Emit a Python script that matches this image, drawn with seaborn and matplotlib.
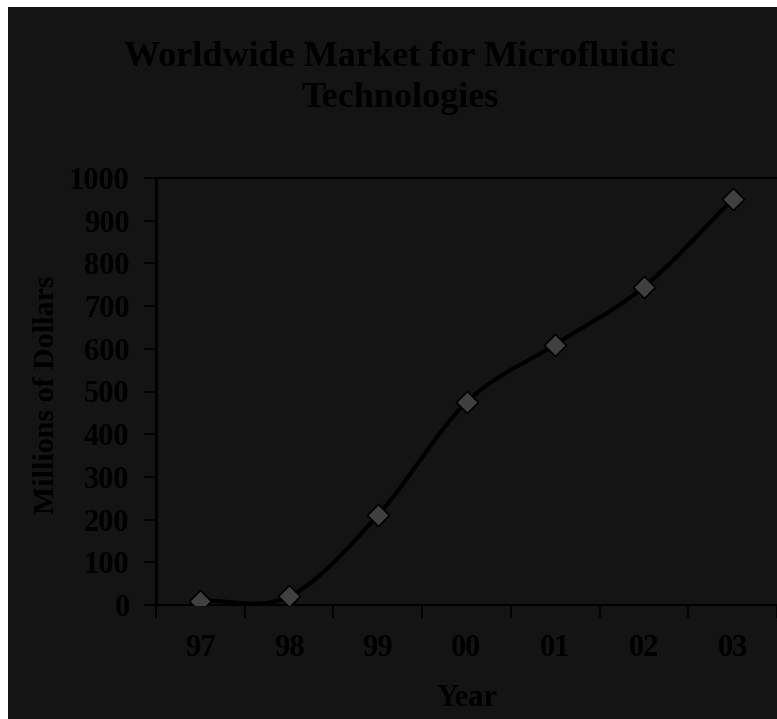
import numpy as np
import pandas as pd
import matplotlib
matplotlib.use("Agg")
import matplotlib.pyplot as plt
from matplotlib.patches import Rectangle
from matplotlib.ticker import FixedLocator, NullFormatter
import seaborn as sns

# Market size by year, millions of dollars
years = ["97", "98", "99", "00", "01", "02", "03"]
market = [10, 20, 210, 475, 610, 745, 950]
y_ticks = list(range(0, 1001, 100))

BG = "#141414"
FONT = ["Liberation Serif", "DejaVu Serif"]
TICK_SIZE = 22

sns.set_style("ticks")
plt.rcParams["font.family"] = FONT
plt.rcParams["font.weight"] = "bold"

fig = plt.figure(figsize=(7.77, 7.19), dpi=100, facecolor="white")
# dark chart panel inside a thin white margin
fig.patches.append(Rectangle((8 / 777, 0), 1 - 8 / 777, 1 - 7 / 719,
                             transform=fig.transFigure, facecolor=BG,
                             edgecolor="none", zorder=-10))

ax = fig.add_axes([156 / 777, (719 - 605) / 719, 1 - 156 / 777, (605 - 178) / 719])
ax.set_facecolor(BG)

df = pd.DataFrame({"pos": np.arange(len(years)), "value": market})

# smooth Catmull-Rom style curve through the points
x = df["pos"].to_numpy(float)
y = df["value"].to_numpy(float)
m = np.empty_like(y)
m[1:-1] = (y[2:] - y[:-2]) / 2
m[0] = y[1] - y[0]
m[-1] = y[-1] - y[-2]
xs, ys = [], []
for i in range(len(x) - 1):
    t = np.linspace(0, 1, 40)
    h00 = 2 * t**3 - 3 * t**2 + 1
    h10 = t**3 - 2 * t**2 + t
    h01 = -2 * t**3 + 3 * t**2
    h11 = t**3 - t**2
    xs.append(x[i] + t)
    ys.append(h00 * y[i] + h10 * m[i] + h01 * y[i + 1] + h11 * m[i + 1])
ax.plot(np.concatenate(xs), np.concatenate(ys), color="black", lw=3, zorder=2,
        solid_capstyle="round")

sns.scatterplot(data=df, x="pos", y="value", marker="D", s=125,
                color="#404040", edgecolor="black", linewidth=1.2,
                zorder=3, ax=ax, legend=False)

ax.set_xlim(-0.5, len(years) - 0.5)
ax.set_ylim(0, 1000)
ax.set_yticks(y_ticks)
ax.set_yticklabels([str(v) for v in y_ticks])
ax.set_xticks(df["pos"])
ax.set_xticklabels(years)
ax.xaxis.set_minor_locator(FixedLocator(np.arange(-0.5, len(years), 1)))
ax.xaxis.set_minor_formatter(NullFormatter())
ax.tick_params(axis="x", which="major", length=0, pad=21, labelsize=TICK_SIZE,
               labelcolor="black")
ax.tick_params(axis="x", which="minor", length=9, width=1.2, color="black",
               direction="out")
ax.tick_params(axis="y", length=9, width=1.2, color="black", direction="out",
               pad=10, labelsize=TICK_SIZE, labelcolor="black")
for lbl in ax.get_xticklabels() + ax.get_yticklabels():
    lbl.set_fontweight("bold")

for side in ["left", "bottom", "top"]:
    ax.spines[side].set_visible(True)
    ax.spines[side].set_color("black")
ax.spines["left"].set_linewidth(2)
ax.spines["bottom"].set_linewidth(1.5)
ax.spines["top"].set_linewidth(1.5)
ax.spines["right"].set_visible(False)

ax.set_xlabel("")
ax.set_ylabel("")
fig.text(467 / 777, 1 - 698 / 719, "Year", ha="center", va="center",
         fontsize=22, fontweight="bold", color="black")
fig.text(47 / 777, 1 - 395 / 719, "Millions of Dollars", ha="center",
         va="center", rotation=90, fontsize=21.6, fontweight="bold",
         color="black")
fig.text(400 / 777, 1 - 78 / 719,
         "Worldwide Market for Microfluidic\nTechnologies", ha="center",
         va="center", fontsize=26, fontweight="bold", color="black",
         linespacing=1.35)

fig.savefig("out.png", dpi=100, facecolor=fig.get_facecolor())
